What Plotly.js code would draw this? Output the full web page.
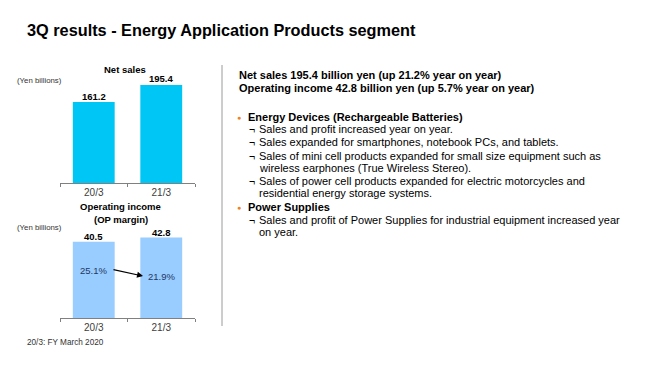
<!DOCTYPE html>
<html><head><meta charset="utf-8">
<script src="https://cdn.plot.ly/plotly-3.0.1.min.js"></script>
<style>html,body{margin:0;padding:0;background:#fff}#c{width:660px;height:371px}</style>
</head><body><div id="c"></div>
<script>
const categories = ['20/3', '21/3'];
const netSales = [161.2, 195.4];
const opIncome = [40.5, 42.8];
const opMargin = [25.1, 21.9];
const headerLines = [
  'Net sales 195.4 billion yen (up 21.2% year on year)',
  'Operating income 42.8 billion yen (up 5.7% year on year)'
];
const bulletItems = [
  {head: 'Energy Devices (Rechargeable Batteries)', subs: [
    ['Sales and profit increased year on year.'],
    ['Sales expanded for smartphones, notebook PCs, and tablets.'],
    ['Sales of mini cell products expanded for small size equipment such as', 'wireless earphones (True Wireless Stereo).'],
    ['Sales of power cell products expanded for electric motorcycles and', 'residential energy storage systems.']
  ]},
  {head: 'Power Supplies', subs: [
    ['Sales and profit of Power Supplies for industrial equipment increased year', 'on year.']
  ]}
];

const W = 660, H = 371;
const px = x => x / W, py = y => 1 - y / H;
const FONT = 'Liberation Sans, Arial, sans-serif';

const traces = [
  {type: 'bar', x: categories, y: netSales, xaxis: 'x', yaxis: 'y', width: 0.62,
   marker: {color: '#00C6F6'}, hoverinfo: 'skip'},
  {type: 'bar', x: categories, y: opIncome, xaxis: 'x2', yaxis: 'y2', width: 0.62,
   marker: {color: '#99CCFF'}, hoverinfo: 'skip'}
];

const axX = {type: 'category', range: [-0.5, 1.5], showline: true, linecolor: '#808080', linewidth: 1,
  ticks: 'outside', tickson: 'boundaries', ticklen: 3, tickcolor: '#808080',
  tickfont: {size: 10, color: '#404040', family: FONT}, showgrid: false, zeroline: false, fixedrange: true};

const annotations = [];
function txt(x, y, text, opts) {
  annotations.push(Object.assign({xref: 'paper', yref: 'paper', x: px(x), y: py(y), text: text,
    showarrow: false, xanchor: 'left', yanchor: 'middle',
    font: {size: 11, color: '#000', family: FONT}}, opts || {}));
}
// value labels
netSales.forEach((v, i) => annotations.push({xref: 'x', yref: 'y', x: i, y: v, text: '<b>' + v.toFixed(1) + '</b>',
  showarrow: false, xanchor: 'center', yanchor: 'middle', yshift: 6, font: {size: 9.5, color: '#000', family: FONT}}));
opIncome.forEach((v, i) => annotations.push({xref: 'x2', yref: 'y2', x: i, y: v, text: '<b>' + v.toFixed(1) + '</b>',
  showarrow: false, xanchor: 'center', yanchor: 'middle', yshift: 5.5, font: {size: 9.5, color: '#000', family: FONT}}));

// title
txt(25, 30, '<b>3Q results - Energy Application Products segment</b>', {font: {size: 16.3, color: '#000', family: FONT}});
// chart labels
txt(125, 70, '<b>Net sales</b>', {xanchor: 'center', font: {size: 9.5, color: '#000', family: FONT}});
txt(15, 80, '(Yen billions)', {font: {size: 7.8, color: '#333', family: FONT}});
txt(121, 206, '<b>Operating income</b>', {xanchor: 'center', font: {size: 9.5, color: '#000', family: FONT}});
txt(121, 219, '<b>(OP margin)</b>', {xanchor: 'center', font: {size: 9.5, color: '#000', family: FONT}});
txt(15, 227, '(Yen billions)', {font: {size: 7.8, color: '#333', family: FONT}});
txt(25, 342, '20/3: FY March 2020', {font: {size: 8.2, color: '#333', family: FONT}});

// margin labels
opMargin.forEach((m, i) => {
  annotations.push({xref: 'x2', yref: 'y2', x: i, y: m, text: m.toFixed(1) + '%', showarrow: false,
    xanchor: 'center', yanchor: 'middle', font: {size: 9.5, color: '#1F3864', family: FONT}});
});
annotations.push({xref: 'x2', yref: 'y2', axref: 'x2', ayref: 'y2', x: 0.73, y: 22.3, ax: 0.27, ay: 25.9,
  text: '', showarrow: true, arrowhead: 2, arrowsize: 1, arrowwidth: 1.2, arrowcolor: '#000'});

// right text
txt(237, 75, '<b>' + headerLines[0] + '</b>');
txt(237, 88, '<b>' + headerLines[1] + '</b>');
let y = 117;
bulletItems.forEach((item, k) => {
  txt(235, y, '●', {font: {size: 7, color: '#F08020', family: FONT}});
  txt(246, y, '<b>' + item.head + '</b>');
  y += 12.2;
  item.subs.forEach((lines, j) => {
    if (j > 0) y += 1.1;
    txt(247, y, '¬', {font: {size: 10.5, color: '#000', family: FONT}});
    lines.forEach((l, n) => { if (n > 0) y += 12.2; txt(257, y, l); });
    y += 12.2;
  });
  y += 1.8;
});

const layout = {
  width: W, height: H, margin: {l: 0, r: 0, t: 0, b: 0}, showlegend: false,
  paper_bgcolor: '#fff', plot_bgcolor: 'rgba(0,0,0,0)',
  font: {family: FONT},
  xaxis: Object.assign({}, axX, {domain: [px(60), px(195)], anchor: 'y'}),
  yaxis: {domain: [py(183), py(72.6)], range: [0, 220], visible: false, fixedrange: true, anchor: 'x'},
  xaxis2: Object.assign({}, axX, {domain: [px(60), px(195)], anchor: 'y2'}),
  yaxis2: {domain: [py(318), py(224)], range: [0, 50], visible: false, fixedrange: true, anchor: 'x2'},
  shapes: [{type: 'line', xref: 'paper', yref: 'paper', x0: px(222), x1: px(222), y0: py(65), y1: py(326),
    line: {color: '#9a9a9a', width: 1}}],
  annotations: annotations
};
Plotly.newPlot('c', traces, layout, {displayModeBar: false, staticPlot: true});
</script></body></html>
